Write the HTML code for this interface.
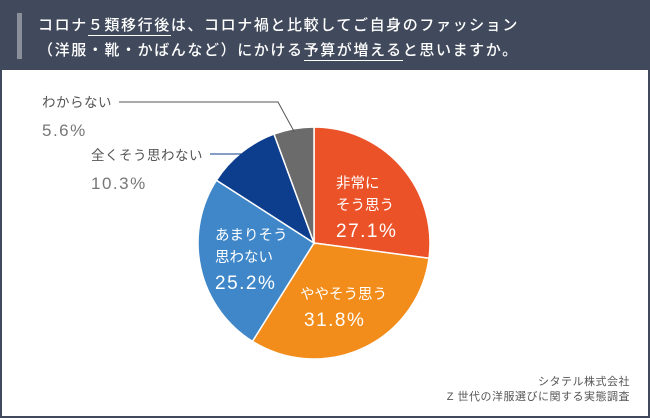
<!DOCTYPE html>
<html><head><meta charset="utf-8"><style>
body{margin:0;width:650px;height:418px;overflow:hidden;background:#fff;font-family:"Liberation Sans","Noto Sans CJK JP",sans-serif}
#frame{position:absolute;left:0;top:0;width:646px;height:414px;border:2px solid #414a5c;}
#hdr{position:absolute;left:0;top:0;width:650px;height:70px;background:#414a5c}
#bar{position:absolute;left:17px;top:13px;width:5px;height:46px;background:#8a8f99}
.t{position:absolute;left:38px;color:#fff;font-size:15px;font-weight:500;letter-spacing:1.6px;white-space:nowrap}
.u{border-bottom:1.5px solid #fff;padding-bottom:1px}
#src{position:absolute;right:20px;top:375px;text-align:right;color:#555;font-size:11px;line-height:15px;letter-spacing:0.5px}
</style></head><body>
<div id="frame"></div>
<div id="hdr">
<div id="bar"></div>
<div class="t" style="top:14px">コロナ<span class="u">５類移行後</span>は、コロナ禍と比較してご自身のファッション</div>
<div class="t" style="top:39px">（洋服・靴・かばんなど）にかける<span class="u">予算が増える</span>と思いますか。</div>
</div>
<svg id="chart" width="650" height="418" style="position:absolute;left:0;top:0"></svg>
<div id="src">シタテル株式会社<br>Z 世代の洋服選びに関する実態調査</div>
<script>
const categories=["非常にそう思う","ややそう思う","あまりそう思わない","全くそう思わない","わからない"];
const values=[27.1,31.8,25.2,10.3,5.6];
const colors=["#eb5228","#f28c1a","#3f87c9","#0d3e8e","#6b6b6b"];
const svg=document.getElementById('chart');const NS='http://www.w3.org/2000/svg';
const cx=314,cy=243,r=116;
const total=values.reduce((a,b)=>a+b,0);
function pt(a,rr){return [cx+rr*Math.sin(a),cy-rr*Math.cos(a)];}
let acc=0;const mids=[];
values.forEach((v,i)=>{
 const a0=acc/total*2*Math.PI;acc+=v;const a1=acc/total*2*Math.PI;
 const p0=pt(a0,r),p1=pt(a1,r);
 const p=document.createElementNS(NS,'path');
 p.setAttribute('d',`M${cx},${cy}L${p0[0]},${p0[1]}A${r},${r} 0 ${a1-a0>Math.PI?1:0} 1 ${p1[0]},${p1[1]}Z`);
 p.setAttribute('fill',colors[i]);p.setAttribute('stroke','#fff');p.setAttribute('stroke-width','1.5');
 
 
 svg.appendChild(p);mids.push((a0+a1)/2);
});
function txt(x,y,s,size,fill,name,ls){const t=document.createElementNS(NS,'text');t.setAttribute('x',x);t.setAttribute('y',y);t.setAttribute('font-size',size);t.setAttribute('fill',fill);if(ls)t.setAttribute('letter-spacing',ls);t.textContent=s;


svg.appendChild(t);}
function pct(i){return values[i].toFixed(1)+'%';}
txt(336,188,"非常に",14.5,"#fff","label-0a");txt(336,210,"そう思う",14.5,"#fff","label-0b");txt(336,237,pct(0),19,"#fff","value-0","1.5");
txt(300,299,"ややそう思う",14.5,"#fff","label-1");txt(304,326,pct(1),19,"#fff","value-1","1.5");
txt(215,240,"あまりそう",14.5,"#fff","label-2a");txt(215,262,"思わない",14.5,"#fff","label-2b");txt(215,289,pct(2),19,"#fff","value-2","1.5");
txt(42,107,"わからない",13.5,"#555","label-4","0.5");txt(42,136,pct(4),17,"#777","value-4","1.5");
txt(91,160,"全くそう思わない",13.5,"#555","label-3","0.5");txt(91,189,pct(3),17,"#777","value-3","1.5");
function line(d,c,n){const l=document.createElementNS(NS,'path');l.setAttribute('d',d);l.setAttribute('stroke',c);l.setAttribute('fill','none');l.setAttribute('stroke-width','1');


svg.appendChild(l);}
const m4=pt(mids[4],r-3);line(`M119,102L278,102L${m4[0]},${m4[1]}`,"#555","leader-4");
const m3=pt(mids[3],r-25);line(`M210,154L${Math.min(m3[0],245)},154`,"#0d3e8e","leader-3");
</script>
</body></html>
